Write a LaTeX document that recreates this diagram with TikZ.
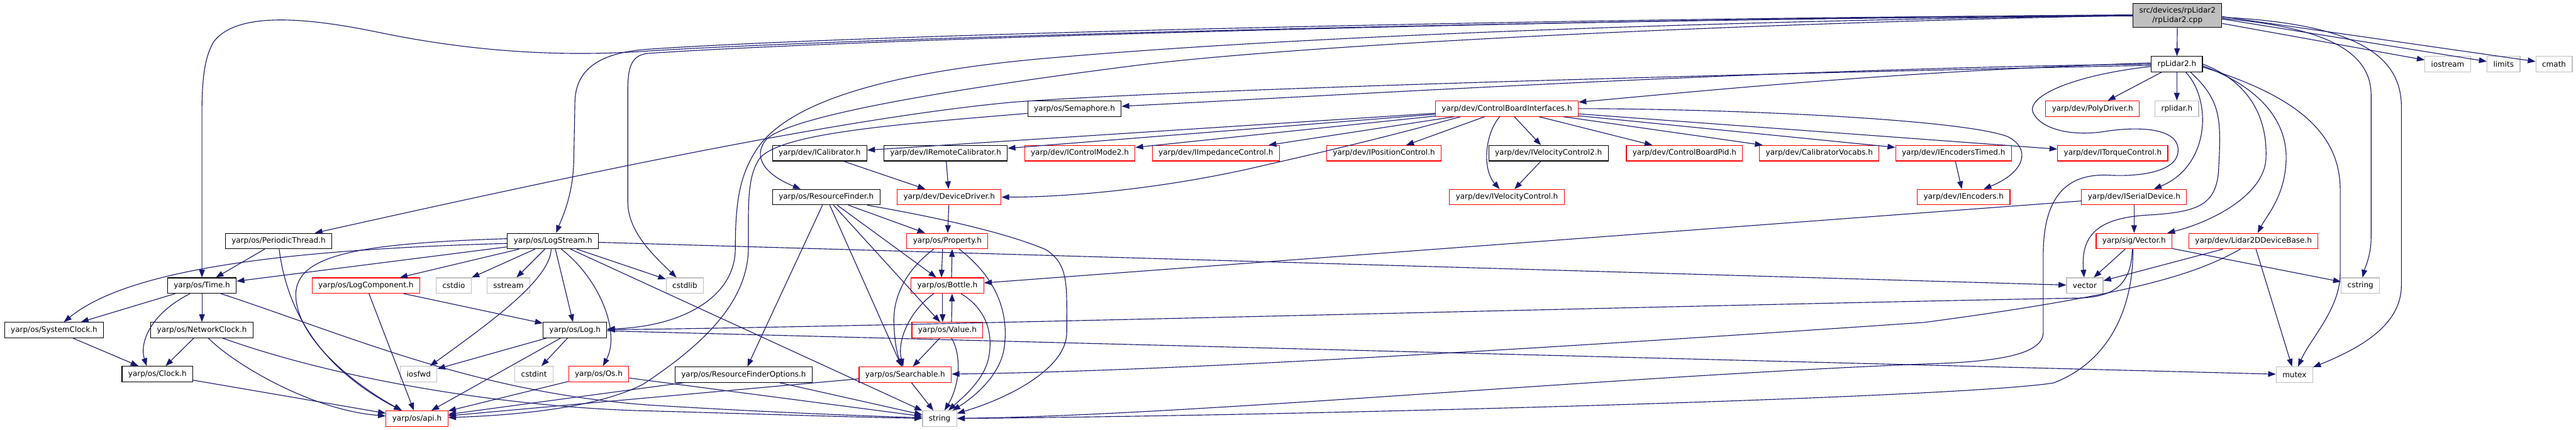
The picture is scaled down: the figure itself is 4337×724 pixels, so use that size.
\documentclass[tikz,border=0pt]{standalone}
\usepackage{fontspec}
\newfontfamily\dejavu{DejaVu Sans}
\usepackage{tikz}
\usetikzlibrary{arrows.meta,positioning}
\definecolor{edgeblue}{HTML}{191970}
\definecolor{truncred}{HTML}{FF0000}
\definecolor{sysgray}{HTML}{BFBFBF}
\newcommand{\depfont}{\dejavu\fontsize{12.7}{16}\selectfont}

\begin{document}
\begin{tikzpicture}[
  x=1pt, y=-1pt,
  hdr/.style={draw=black, fill=white, line width=1.2pt, minimum height=26pt, inner xsep=10.5pt, inner ysep=1pt, font=\depfont},
  trunc/.style={hdr, draw=truncred},
  sysh/.style={hdr, draw=sysgray},
  srcfile/.style={hdr, fill=sysgray, align=center, minimum height=40pt},
  incl/.style={-{Triangle[length=13pt,width=9.5pt]}, draw=edgeblue, line width=1.2pt}
]
  \useasboundingbox (0,0) rectangle (4337,724);

  \node[srcfile] (main) at (3666,26) {src/devices/rpLidar2\\/rpLidar2.cpp};
  \node[hdr] (rplidarh) at (3665,108) {rpLidar2.h};
  \node[sysh] (iostream) at (4121,108) {iostream};
  \node[sysh] (limits) at (4215,108) {limits};
  \node[sysh] (cmath) at (4300,108) {cmath};

  \node[hdr] (semaphore) at (1809,183) {yarp/os/Semaphore.h};
  \node[trunc] (cbi) at (2537,183) {yarp/dev/ControlBoardInterfaces.h};
  \node[trunc] (polydriver) at (3523,183) {yarp/dev/PolyDriver.h};
  \node[sysh] (rplidar) at (3665,183) {rplidar.h};

  \node[hdr] (icalib) at (1380,258) {yarp/dev/ICalibrator.h};
  \node[hdr] (iremcal) at (1592,258) {yarp/dev/IRemoteCalibrator.h};
  \node[trunc] (icm) at (1818,258) {yarp/dev/IControlMode2.h};
  \node[trunc] (iimp) at (2047,258) {yarp/dev/IImpedanceControl.h};
  \node[trunc] (ipos) at (2330,258) {yarp/dev/IPositionControl.h};
  \node[hdr] (ivel2) at (2607,258) {yarp/dev/IVelocityControl2.h};
  \node[trunc] (cbpid) at (2836,258) {yarp/dev/ControlBoardPid.h};
  \node[trunc] (calvoc) at (3063,258) {yarp/dev/CalibratorVocabs.h};
  \node[trunc] (iencts) at (3289,258) {yarp/dev/IEncodersTimed.h};
  \node[trunc] (itorque) at (3557,258) {yarp/dev/ITorqueControl.h};

  \node[hdr] (resfinder) at (1391,332) {yarp/os/ResourceFinder.h};
  \node[trunc] (devdrv) at (1598,332) {yarp/dev/DeviceDriver.h};
  \node[trunc] (ivel) at (2537,332) {yarp/dev/IVelocityControl.h};
  \node[trunc] (ienc) at (3306,332) {yarp/dev/IEncoders.h};
  \node[trunc] (iserial) at (3593,332) {yarp/dev/ISerialDevice.h};

  \node[hdr] (periodic) at (469,406) {yarp/os/PeriodicThread.h};
  \node[hdr] (logstream) at (931,406) {yarp/os/LogStream.h};
  \node[trunc] (property) at (1595,406) {yarp/os/Property.h};
  \node[trunc] (vectorh) at (3593,406) {yarp/sig/Vector.h};
  \node[trunc] (lidarbase) at (3794,406) {yarp/dev/Lidar2DDeviceBase.h};

  \node[hdr] (timeh) at (340,481) {yarp/os/Time.h};
  \node[trunc] (logcomp) at (616,481) {yarp/os/LogComponent.h};
  \node[sysh] (cstdio) at (764,481) {cstdio};
  \node[sysh] (sstream) at (856,481) {sstream};
  \node[sysh] (cstdlib) at (1153,481) {cstdlib};
  \node[trunc] (bottle) at (1595,481) {yarp/os/Bottle.h};
  \node[sysh] (vector) at (3510,481) {vector};
  \node[sysh] (cstring) at (3974,481) {cstring};

  \node[hdr] (sysclock) at (91,556) {yarp/os/SystemClock.h};
  \node[hdr] (netclock) at (340,556) {yarp/os/NetworkClock.h};
  \node[hdr] (logh) at (968,556) {yarp/os/Log.h};
  \node[trunc] (value) at (1595,556) {yarp/os/Value.h};

  \node[hdr] (clock) at (265,630) {yarp/os/Clock.h};
  \node[sysh] (iosfwd) at (705,630) {iosfwd};
  \node[sysh] (cstdint) at (899,630) {cstdint};
  \node[trunc] (osh) at (1008,630) {yarp/os/Os.h};
  \node[hdr] (rfopts) at (1252,631) {yarp/os/ResourceFinderOptions.h};
  \node[trunc] (searchable) at (1524,631) {yarp/os/Searchable.h};
  \node[sysh] (mutex) at (3863,631) {mutex};

  \node[trunc] (api) at (702,705) {yarp/os/api.h};
  \node[sysh] (string) at (1582,705) {string};

  % rpLidar2.cpp
  \draw[incl] (main) -- (rplidarh);
  \draw[incl] (main) -- (iostream);
  \draw[incl] ([yshift=-6pt]main.east) -- (limits);
  \draw[incl] ([yshift=-2pt]main.east) -- (cmath);
  \draw[incl] ([yshift=-5pt]main.east) .. controls (3900,45) and (3992,80) .. (3992,160) -- (3992,400) .. controls (3992,430) and (3982,450) .. (cstring);
  \draw[incl] ([yshift=-3pt]main.east) .. controls (3960,40) and (4043,90) .. (4043,180) -- (4043,480) .. controls (4043,540) and (3990,580) .. (mutex);
  \draw[incl] ([yshift=-1pt]main.west) .. controls (2800,30) and (1500,60) .. (1090,86) .. controls (950,96) and (800,88) .. (640,55) .. controls (520,30) and (400,18) .. (360,70) .. controls (345,95) and (340,130) .. (340,190) -- (timeh);
  \draw[incl] (main.west) .. controls (2800,28) and (1500,55) .. (1090,83) .. controls (1020,88) and (970,110) .. (968,170) -- (966,270) .. controls (965,330) and (945,370) .. (logstream);
  \draw[incl] ([yshift=1pt]main.west) .. controls (2800,30) and (1500,62) .. (1090,90) .. controls (1065,93) and (1057,110) .. (1057,150) -- (1057,340) .. controls (1057,390) and (1100,430) .. (cstdlib);
  \draw[incl] (main.west) .. controls (2900,35) and (2200,60) .. (1775,97) .. controls (1500,120) and (1330,170) .. (1275,250) .. controls (1245,295) and (1238,340) .. (1238,420) .. controls (1237,500) and (1150,550) .. (logh);
  \draw[incl] (main.west) .. controls (2900,40) and (2200,75) .. (1914,110) .. controls (1600,150) and (1330,195) .. (1290,235) .. controls (1265,265) and (1290,295) .. ([xshift=-43pt]resfinder.north);

  % rpLidar2.h
  \draw[incl] ([yshift=-2pt]rplidarh.west) .. controls (2900,125) and (2000,150) .. (1706,172) .. controls (1400,200) and (900,310) .. (periodic);
  \draw[incl] (rplidarh.west) .. controls (3000,115) and (2300,158) .. (semaphore);
  \draw[incl] ([yshift=2pt]rplidarh.west) .. controls (3200,120) and (2900,150) .. (cbi);
  \draw[incl] (rplidarh) -- (polydriver);
  \draw[incl] (rplidarh) -- (rplidar);
  \draw[incl] ([xshift=15pt]rplidarh.south) .. controls (3725,170) and (3720,280) .. (iserial);
  \draw[incl] ([yshift=-4pt]rplidarh.west) .. controls (3500,125) and (3410,160) .. (3423,190) .. controls (3435,215) and (3480,230) .. (3540,222) .. controls (3600,212) and (3670,215) .. (3667,255) .. controls (3665,290) and (3600,298) .. (3550,295) .. controls (3480,292) and (3440,330) .. (3440,430) -- (3440,560) .. controls (3440,600) and (3350,610) .. (3240,613) .. controls (2700,635) and (2000,700) .. (string);
  \draw[incl] ([xshift=23pt]rplidarh.south) .. controls (3740,170) and (3740,200) .. (3735,290) .. controls (3730,345) and (3700,357) .. (3620,362) .. controls (3540,366) and (3502,390) .. (vector);
  \draw[incl] (rplidarh.east) .. controls (3780,135) and (3818,190) .. (3815,267) .. controls (3812,330) and (3720,375) .. (vectorh);
  \draw[incl] ([yshift=-3pt]rplidarh.east) .. controls (3800,145) and (3850,200) .. (3849,267) .. controls (3848,330) and (3815,365) .. (lidarbase);
  \draw[incl] ([yshift=-5pt]rplidarh.east) .. controls (3860,160) and (3940,220) .. (3940,320) -- (3940,460) .. controls (3940,520) and (3890,570) .. (mutex);

  % ControlBoardInterfaces.h
  \draw[incl] (cbi) -- (icalib);
  \draw[incl] (cbi) -- (iremcal);
  \draw[incl] (cbi) -- (icm);
  \draw[incl] (cbi) -- (iimp);
  \draw[incl] ([xshift=-78pt]cbi.south) .. controls (2300,240) and (2200,262) .. (2100,285) .. controls (1950,318) and (1800,332) .. (devdrv);
  \draw[incl] (cbi) -- (ipos);
  \draw[incl] ([xshift=-12pt]cbi.south) .. controls (2500,225) and (2495,285) .. (ivel);
  \draw[incl] (cbi) -- (ivel2);
  \draw[incl] (cbi) -- (cbpid);
  \draw[incl] (cbi) -- (calvoc);
  \draw[incl] (cbi) -- (iencts);
  \draw[incl] (cbi.east) .. controls (2900,183) and (3300,200) .. (3380,230) .. controls (3420,250) and (3410,290) .. (ienc);
  \draw[incl] (cbi) -- (itorque);
  \draw[incl] (ivel2) -- (ivel);
  \draw[incl] (iencts) -- (ienc);

  \draw[incl] ([yshift=-8pt]semaphore.west) .. controls (1500,210) and (1310,225) .. (1278,268) .. controls (1258,300) and (1260,340) .. (1260,420) .. controls (1258,500) and (1200,570) .. (1083,647) .. controls (1000,690) and (850,700) .. (api);
  \draw[incl] (icalib) -- (devdrv);
  \draw[incl] (iremcal) -- (devdrv);
  \draw[incl] (devdrv) -- (property);

  % ResourceFinder.h
  \draw[incl] (resfinder) -- (rfopts);
  \draw[incl] (resfinder) -- (searchable);
  \draw[incl] (resfinder) -- (value);
  \draw[incl] (resfinder) -- (bottle);
  \draw[incl] (resfinder) -- (property);
  \draw[incl] ([xshift=69pt]resfinder.south) .. controls (1600,370) and (1700,395) .. (1760,420) .. controls (1800,445) and (1796,480) .. (1796,560) .. controls (1796,620) and (1700,670) .. (string);

  % Property.h, Bottle.h, Value.h
  \draw[incl] ([xshift=-8pt]property.south) -- ([xshift=-10pt]bottle.north);
  \draw[incl] ([xshift=7pt]bottle.north) -- ([xshift=8pt]property.south);
  \draw[incl] ([xshift=-8pt]bottle.south) -- ([xshift=-8pt]value.north);
  \draw[incl] ([xshift=7pt]value.north) -- ([xshift=8pt]bottle.south);
  \draw[incl] ([xshift=-23pt]property.south) .. controls (1525,455) and (1503,500) .. (1505,545) .. controls (1506,580) and (1512,600) .. (searchable);
  \draw[incl] ([xshift=-23pt]bottle.south) .. controls (1530,525) and (1510,575) .. (searchable);
  \draw[incl] (value) -- (searchable);
  \draw[incl] ([xshift=20pt]property.south) .. controls (1680,470) and (1700,530) .. (1690,590) .. controls (1680,640) and (1630,675) .. (string);
  \draw[incl] ([xshift=23pt]bottle.south) .. controls (1660,520) and (1672,560) .. (1665,600) .. controls (1658,640) and (1620,670) .. (string);
  \draw[incl] ([xshift=7pt]value.south) .. controls (1620,600) and (1615,650) .. (string);
  \draw[incl] (searchable) -- (string);
  \draw[incl] (searchable) -- (api);
  \draw[incl] (rfopts) -- (api);
  \draw[incl] (rfopts) -- (string);

  % LogStream.h
  \draw[incl] (logstream) -- (vector);
  \draw[incl] (logstream) -- (string);
  \draw[incl] (logstream) -- (cstdlib);
  \draw[incl] ([xshift=14pt]logstream.south) .. controls (1010,470) and (1045,560) .. (osh);
  \draw[incl] ([xshift=4pt]logstream.south) -- (logh);
  \draw[incl] ([xshift=-3pt]logstream.south) .. controls (926,470) and (830,540) .. (iosfwd);
  \draw[incl] (logstream) -- (sstream);
  \draw[incl] (logstream) -- (cstdio);
  \draw[incl] (logstream) -- (logcomp);
  \draw[incl] (logstream) -- (timeh);
  \draw[incl] ([yshift=-4pt]logstream.west) .. controls (500,420) and (220,450) .. (sysclock);
  \draw[incl] ([yshift=4pt]logstream.west) .. controls (600,410) and (500,430) .. (498,495) .. controls (497,570) and (600,650) .. (api);

  % PeriodicThread.h, Time.h and clocks
  \draw[incl] (periodic) -- (timeh);
  \draw[incl] ([xshift=1pt]periodic.south) .. controls (480,500) and (520,610) .. (api);
  \draw[incl] (timeh) -- (sysclock);
  \draw[incl] (timeh) -- (netclock);
  \draw[incl] ([xshift=-20pt]timeh.south) .. controls (250,530) and (235,580) .. ([xshift=-18pt]clock.north);
  \draw[incl] ([xshift=32pt]timeh.south) .. controls (600,570) and (800,660) .. (1090,682) .. controls (1300,695) and (1450,700) .. (string);
  \draw[incl] (netclock) -- (clock);
  \draw[incl] ([xshift=11pt]netclock.south) .. controls (390,610) and (520,690) .. (api);
  \draw[incl] ([xshift=35pt]netclock.south) .. controls (600,650) and (900,688) .. (1090,692) .. controls (1300,698) and (1450,703) .. (string);
  \draw[incl] (sysclock) -- (clock);
  \draw[incl] (clock) -- (api);

  % LogComponent.h, Log.h, Os.h
  \draw[incl] (logcomp) -- (api);
  \draw[incl] (logcomp) -- (logh);
  \draw[incl] (logh) -- (iosfwd);
  \draw[incl] (logh) -- (api);
  \draw[incl] (logh) -- (cstdint);
  \draw[incl] (logh) -- (mutex);
  \draw[incl] (osh) -- (api);
  \draw[incl] (osh) -- (string);

  % Vector.h, Lidar2DDeviceBase.h, ISerialDevice.h
  \draw[incl] (vectorh) -- (vector);
  \draw[incl] (vectorh) -- (cstring);
  \draw[incl] ([xshift=-3pt]vectorh.south) .. controls (3588,470) and (3570,500) .. (3500,502) .. controls (2800,515) and (1500,550) .. (logh);
  \draw[incl] ([xshift=-2pt]vectorh.south) .. controls (3592,520) and (3550,610) .. (3457,645) .. controls (3300,670) and (2200,700) .. (string);
  \draw[incl] (lidarbase) -- (vector);
  \draw[incl] (lidarbase) -- (mutex);
  \draw[incl] ([xshift=-22pt]lidarbase.south) .. controls (3700,460) and (3600,495) .. (3240,543) .. controls (2700,580) and (2000,625) .. (searchable);
  \draw[incl] (iserial) -- (vectorh);
  \draw[incl] (iserial) -- (bottle);
\end{tikzpicture}
\end{document}
